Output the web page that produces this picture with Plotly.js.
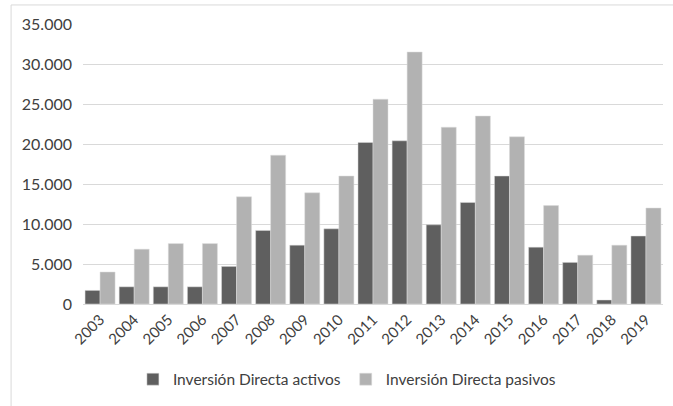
<!DOCTYPE html>
<html>
<head>
<meta charset="utf-8">
<script src="https://cdn.plot.ly/plotly-3.0.1.min.js"></script>
<style>html,body{margin:0;padding:0;background:#fff;}#chart{width:673px;height:406px;}</style>
</head>
<body>
<div id="chart"></div>
<script>
const years = ["2003","2004","2005","2006","2007","2008","2009","2010","2011","2012","2013","2014","2015","2016","2017","2018","2019"];
const activos = [1700,2150,2150,2150,4700,9200,7350,9400,20200,20400,9900,12700,16000,7100,5200,500,8500];
const pasivos = [4000,6850,7550,7550,13400,18600,13900,16000,25600,31500,22100,23500,20900,12300,6100,7350,12000];
const seriesNames = ["Inversión Directa activos","Inversión Directa pasivos"];

const fontFam = "Lato, Carlito, Calibri, sans-serif";
const data = [
  {type:"bar", x:years, y:activos, name:seriesNames[0], marker:{color:"#5f5f5f", line:{color:"#dcdcdc", width:0.5}}},
  {type:"bar", x:years, y:pasivos, name:seriesNames[1], marker:{color:"#b2b2b2", line:{color:"#dcdcdc", width:0.5}}}
];
const layout = {
  width:673, height:406,
  margin:{l:83, r:10, t:24, b:102},
  paper_bgcolor:"#fff", plot_bgcolor:"#fff",
  separators:",.",
  barmode:"group", bargap:0.12, bargroupgap:0,
  font:{family:fontFam, size:15, color:"#404040"},
  xaxis:{type:"category", tickangle:-45, showgrid:false, ticks:"", showline:true, linecolor:"#d9d9d9", linewidth:1, tickfont:{size:15, color:"#404040"}},
  yaxis:{range:[0,35000], dtick:5000, tickformat:",.0f", showgrid:true, gridcolor:"#d9d9d9", gridwidth:1, zeroline:false, ticks:"", showline:false, tickfont:{size:16, color:"#404040"}, ticklabelstandoff:10},
  legend:{orientation:"h", x:0.455, xanchor:"center", y:-0.27, yanchor:"middle", font:{size:15.5, color:"#404040"}, itemwidth:30, traceorder:"normal"},
  shapes:[{type:"rect", xref:"paper", yref:"paper", x0:-0.124, x1:1.03, y0:-0.4, y1:1.068, line:{color:"#d9d9d9", width:1}, fillcolor:"rgba(0,0,0,0)"}],
  showlegend:true
};
Plotly.newPlot("chart", data, layout, {displayModeBar:false, staticPlot:true});
</script>
</body>
</html>
